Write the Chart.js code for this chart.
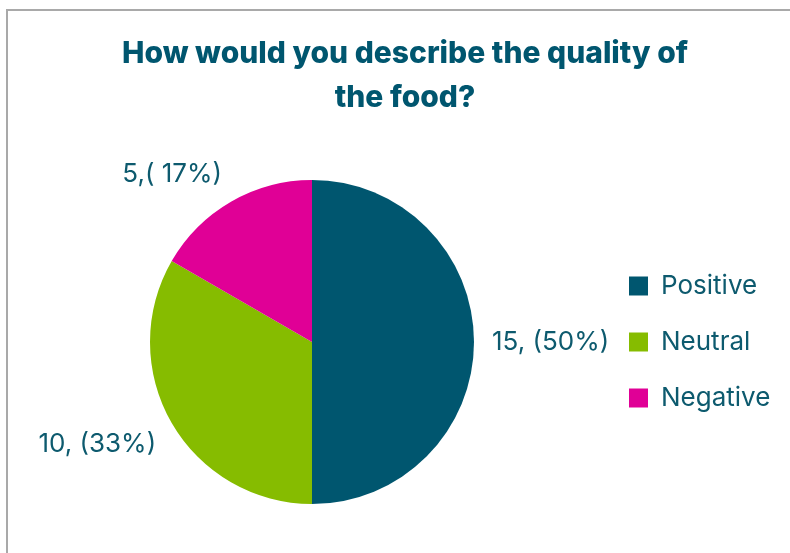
<!DOCTYPE html>
<html>
<head>
<meta charset="utf-8">
<script src="https://cdn.jsdelivr.net/npm/chart.js@4.4.1/dist/chart.umd.min.js"></script>
<style>
  html, body { margin: 0; padding: 0; background: #ffffff; overflow: hidden; }
  #frame { position: absolute; left: 6px; top: 9px; width: 900px; height: 700px; border: 2px solid #a9a9a9; box-sizing: border-box; }
  #wrap { position: absolute; left: 0; top: 0; width: 790px; height: 553px; }
</style>
</head>
<body>
<div id="frame"></div>
<div id="wrap"><canvas id="c" width="790" height="553"></canvas></div>
<script>
// ---- data ----
const categories = ["Positive", "Neutral", "Negative"];
const counts = [15, 10, 5];
const sliceLabels = ["15, (50%)", "10, (33%)", "5,( 17%)"];
const titleLines = ["How would you describe the quality of", "the food?"];
const sliceColors = ["#00566F", "#86BC00", "#E00096"];

const TEXT_COLOR = "#0D5A6E";
const LABEL_FONT = "Inter";
const LEGEND_W = 186;

const fixLegendWidth = {
  id: "fixLegendWidth",
  beforeLayout(chart) {
    const lg = chart.legend;
    if (lg && !lg._fixed) {
      const orig = lg.fit.bind(lg);
      lg.fit = function () { orig(); this.width = LEGEND_W; };
      lg._fixed = true;
    }
  }
};

const outsideLabels = {
  id: "outsideLabels",
  afterDatasetsDraw(chart) {
    const ctx = chart.ctx;
    const meta = chart.getDatasetMeta(0);
    ctx.save();
    ctx.font = "400 26px " + LABEL_FONT;
    ctx.fillStyle = TEXT_COLOR;
    ctx.textBaseline = "middle";
    ctx.textAlign = "center";
    const h = 24;
    meta.data.forEach((arc, i) => {
      const p = arc.getProps(["x", "y", "startAngle", "endAngle", "outerRadius"], true);
      const mid = (p.startAngle + p.endAngle) / 2;
      const dx = Math.cos(mid), dy = Math.sin(mid);
      const d = 18;
      const px = p.x + (p.outerRadius + d) * dx;
      const py = p.y + (p.outerRadius + d) * dy;
      const text = sliceLabels[i];
      const w = ctx.measureText(text).width;
      const cx = px + (Math.abs(dx) > 0.2 ? Math.sign(dx) * w / 2 : 0);
      const cy = py + (Math.abs(dy) > 0.2 ? Math.sign(dy) * h / 2 : 0);
      ctx.fillText(text, cx, cy);
    });
    ctx.restore();
  }
};

new Chart(document.getElementById("c"), {
  type: "pie",
  data: {
    labels: categories,
    datasets: [{
      data: counts,
      backgroundColor: sliceColors,
      borderWidth: 0,
      hoverOffset: 0
    }]
  },
  options: {
    responsive: false,
    animation: false,
    layout: { padding: { left: 25, right: 5, top: 32, bottom: 49 } },
    plugins: {
      title: {
        display: true,
        text: titleLines,
        color: "#00566F",
        font: { family: "Inter", size: 30, weight: "800", lineHeight: 44 / 30 },
        padding: { top: 0, bottom: 60 }
      },
      legend: {
        display: true,
        position: "right",
        fullSize: false,
        align: "center",
        labels: {
          boxWidth: 19,
          boxHeight: 19,
          padding: 30,
          color: TEXT_COLOR,
          font: { family: LABEL_FONT, size: 26, weight: "400" }
        }
      },
      tooltip: { enabled: false }
    }
  },
  plugins: [fixLegendWidth, outsideLabels]
});
</script>
</body>
</html>
